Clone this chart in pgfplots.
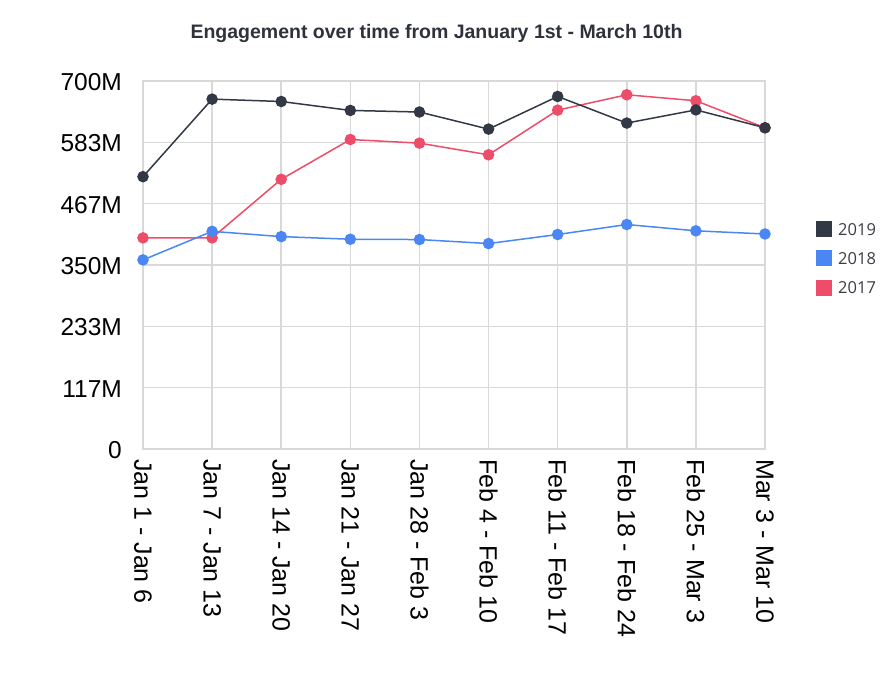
\documentclass[border=0pt]{standalone}
\usepackage{pgfplots}
\pgfplotsset{compat=1.18}
\usepackage{fontspec}
\setmainfont{Liberation Sans}
\newfontfamily\legendfont{Open Sans}

\definecolor{c2019}{HTML}{323845}
\definecolor{c2018}{HTML}{4A87F5}
\definecolor{c2017}{HTML}{EE4D69}
\definecolor{gridgray}{HTML}{D9D9D9}
\definecolor{titlegray}{HTML}{2E323B}
\definecolor{legendtext}{HTML}{3A3D45}

% weekly engagement, in millions
\pgfplotstableread{
x  v
0  401.6
1  401.6
2  513.0
3  588.7
4  581.8
5  559.6
6  644.6
7  673.8
8  662.4
9  611.0
}\yrseventeen
\pgfplotstableread{
x  v
0  359.7
1  414.0
2  404.0
3  399.0
4  398.4
5  390.8
6  408.0
7  427.0
8  415.0
9  409.0
}\yreighteen
\pgfplotstableread{
x  v
0  518.0
1  665.5
2  661.0
3  644.0
4  641.0
5  608.5
6  670.6
7  620.0
8  645.0
9  611.0
}\yrnineteen

\begin{document}
\begin{tikzpicture}[x=1pt,y=1pt]
\useasboundingbox (0,0) rectangle (896,674);
\node[font=\bfseries\fontsize{19.5}{22}\selectfont, text=titlegray] at (436.5,640) {Engagement over time from January 1st - March 10th};
\begin{axis}[
  at={(143pt,225pt)}, anchor=south west,
  scale only axis, width=622pt, height=368pt,
  xmin=0, xmax=9, ymin=0, ymax=700,
  clip=false,
  xtick={0,...,9},
  xticklabels={Jan 1 - Jan 6, Jan 7 - Jan 13, Jan 14 - Jan 20, Jan 21 - Jan 27, Jan 28 - Feb 3, Feb 4 - Feb 10, Feb 11 - Feb 17, Feb 18 - Feb 24, Feb 25 - Mar 3, Mar 3 - Mar 10},
  ytick={0,116.667,233.333,350,466.667,583.333,700},
  yticklabels={0,117M,233M,350M,467M,583M,700M},
  major tick length=0pt,
  grid=major,
  major grid style={draw=gridgray, line width=1.5pt},
  axis line style={draw=gridgray, line width=1.5pt},
  x tick label style={font=\fontsize{25}{28}\selectfont, yshift=-10pt, rotate=-90, anchor=west, inner sep=0pt},
  y tick label style={font=\fontsize{24.5}{28}\selectfont, anchor=east, inner sep=0pt, xshift=-21pt, yshift=-1pt},
  reverse legend,
  legend cell align=left,
  legend image code/.code={\fill[#1, draw=none] (0pt,-8pt) rectangle (16pt,8pt);
    \path[draw=none, fill=none] (0pt,0pt) -- (22pt,0pt);},
  legend style={at={(1,1)}, anchor=north west, xshift=51pt, yshift=-140pt,
    draw=none, fill=none, inner sep=0pt, row sep=13.3pt,
    font=\legendfont\fontsize{16.5}{18}\selectfont, text=legendtext,
    nodes={inner sep=0pt, text depth=0pt}},
  every axis plot/.append style={line width=1.5pt, mark=*, mark size=5pt},
]
\addplot[c2017, mark options={fill=c2017, draw=none}] table[x=x, y=v] {\yrseventeen};
\addlegendentry{2017}
\addplot[c2018, mark options={fill=c2018, draw=none}] table[x=x, y=v] {\yreighteen};
\addlegendentry{2018}
\addplot[c2019, mark options={fill=c2019, draw=none}] table[x=x, y=v] {\yrnineteen};
\addlegendentry{2019}
\end{axis}
\end{tikzpicture}
\end{document}
